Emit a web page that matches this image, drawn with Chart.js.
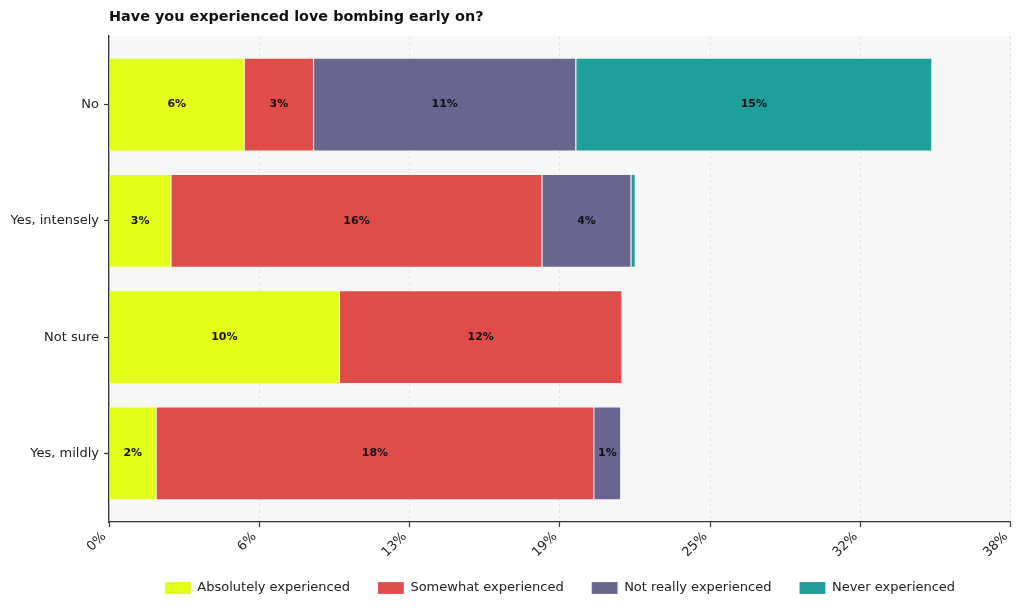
<!DOCTYPE html>
<html>
<head>
<meta charset="utf-8">
<script src="https://cdn.jsdelivr.net/npm/chart.js@4.4.1/dist/chart.umd.min.js"></script>
<style>
  html, body { margin: 0; padding: 0; background: #ffffff; }
  #wrap { width: 1024px; height: 612px; position: relative; }
</style>
</head>
<body>
<div id="wrap"><canvas id="c" width="1024" height="612"></canvas></div>
<script>
const chartTitle = 'Have you experienced love bombing early on?';
const categories = ['No', 'Yes, intensely', 'Not sure', 'Yes, mildly'];
const seriesNames = ['Absolutely experienced', 'Somewhat experienced', 'Not really experienced', 'Never experienced'];
const absolutelyExperienced = [5.71, 2.62, 9.73, 1.99];
const somewhatExperienced   = [2.93, 15.67, 11.94, 18.49];
const notReallyExperienced  = [11.08, 3.76, 0, 1.14];
const neverExperienced      = [15.04, 0.18, 0, 0];
const seriesColors = ['#e2ff1a', '#df4c4a', '#68668f', '#209e9b'];
const xMax = 38.1;
const xTickLabels = ['0%', '6%', '13%', '19%', '25%', '32%', '38%'];

const seriesValues = [absolutelyExperienced, somewhatExperienced, notReallyExperienced, neverExperienced];

const FONT = "'DejaVu Sans', sans-serif";

const datasets = seriesValues.map((vals, s) => ({
  label: seriesNames[s],
  data: vals.map((v, i) => ({ x: v, y: i })),
  backgroundColor: seriesColors[s],
  borderColor: 'rgba(255,255,255,0.35)',
  borderWidth: 0.6,
  barPercentage: 0.8,
  categoryPercentage: 1.0,
  borderSkipped: false
}));

const bgPlugin = {
  id: 'plotBg',
  beforeDraw(chart) {
    const { ctx, chartArea: a } = chart;
    ctx.save();
    ctx.fillStyle = '#f7f7f7';
    ctx.fillRect(a.left, a.top, a.right - a.left, a.bottom - a.top);
    ctx.restore();
  }
};

const titlePlugin = {
  id: 'leftTitle',
  afterDraw(chart) {
    const { ctx, chartArea: a } = chart;
    ctx.save();
    ctx.font = "bold 14.4px " + FONT;
    ctx.fillStyle = '#111';
    ctx.textAlign = 'left';
    ctx.textBaseline = 'middle';
    ctx.fillText(chartTitle, a.left, 17);
    ctx.restore();
  }
};

const labelPlugin = {
  id: 'segLabels',
  afterDatasetsDraw(chart) {
    const { ctx } = chart;
    ctx.save();
    ctx.font = "bold 11px " + FONT;
    ctx.fillStyle = '#111';
    ctx.textAlign = 'center';
    ctx.textBaseline = 'middle';
    chart.data.datasets.forEach((ds, di) => {
      const meta = chart.getDatasetMeta(di);
      meta.data.forEach((el, i) => {
        const v = ds.data[i].x;
        if (v < 0.5) return;
        const p = el.getCenterPoint();
        ctx.fillText(Math.round(v) + '%', p.x, p.y);
      });
    });
    ctx.restore();
  }
};

const legendPlacePlugin = {
  id: 'legendPlace',
  afterLayout(chart) {
    const lg = chart.legend;
    const a = chart.chartArea;
    if (!lg) return;
    const dx = (a.left + a.right) / 2 - (lg.left + lg.right) / 2;
    lg.left += dx; lg.right += dx;
    const desiredTop = 588 - lg.options.labels.padding - 6.5;
    const dy = desiredTop - lg.top;
    lg.top += dy; lg.bottom += dy;
  }
};

new Chart(document.getElementById('c'), {
  type: 'bar',
  data: { datasets },
  options: {
    responsive: false,
    animation: false,
    indexAxis: 'y',
    layout: { padding: { top: 36, right: 12, left: 0, bottom: 0 } },
    plugins: {
      title: { display: false },
      tooltip: { enabled: false },
      legend: {
        position: 'bottom',
        labels: {
          font: { family: FONT, size: 13 },
          color: '#222',
          boxWidth: 26,
          boxHeight: 12,
          padding: 28
        }
      }
    },
    scales: {
      x: {
        type: 'linear',
        stacked: true,
        min: 0,
        max: xMax,
        afterFit(s) { s.height = s.chart.height - s.chart.legend.height - 522; },
        afterBuildTicks(s) { s.ticks = xTickLabels.map((_, i) => ({ value: i * xMax / (xTickLabels.length - 1) })); },
        ticks: {
          font: { family: FONT, size: 13 },
          color: '#222',
          minRotation: 45,
          maxRotation: 45,
          padding: 2,
          labelOffset: -5,
          callback: (v, i) => xTickLabels[i]
        },
        grid: {
          color: '#dcdcdc',
          lineWidth: 0.8,
          drawTicks: true,
          tickLength: 5,
          tickColor: '#333',
          tickWidth: 1.2,
          tickBorderDash: [1, 0]
        },
        border: { display: true, color: '#333', width: 1.3, dash: [3, 3] }
      },
      y: {
        type: 'linear',
        stacked: true,
        reverse: true,
        offset: false,
        min: -0.59,
        max: 3.59,
        afterFit(s) { s.width = 109; },
        afterBuildTicks(s) { s.ticks = categories.map((_, i) => ({ value: i })); },
        ticks: {
          font: { family: FONT, size: 13 },
          color: '#222',
          padding: 5,
          callback: (v) => categories[v]
        },
        grid: {
          offset: false,
          drawOnChartArea: false,
          drawTicks: true,
          tickLength: 5,
          tickColor: '#333',
          tickWidth: 1.2
        },
        border: { display: true, color: '#333', width: 1.3 }
      }
    }
  },
  plugins: [bgPlugin, titlePlugin, labelPlugin, legendPlacePlugin]
});
</script>
</body>
</html>
